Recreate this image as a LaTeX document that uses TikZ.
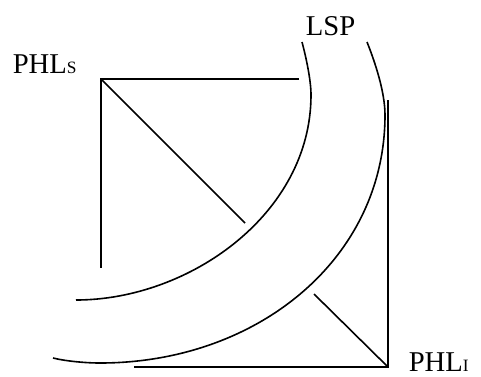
\documentclass[tikz,border=0pt]{standalone}
\usepackage{fontspec}
\setmainfont{Liberation Serif}
\begin{document}
\begin{tikzpicture}[x=0.75pt,y=-0.75pt,line width=1.2pt,
  lbl/.style={font=\fontsize{21.5}{24}\selectfont,inner sep=0pt,anchor=base west}]
\useasboundingbox (0,0) rectangle (481,376);
% labels
\node[lbl] (phls) at (12,73) {PHL{\fontsize{13}{14}\selectfont S}};
\node[lbl] (lsp) at (305,35) {LSP};
\node[lbl] (phli) at (408,371) {PHL{\fontsize{13}{14}\selectfont I}};
% upper-left figure
\coordinate (A) at (101,79);
\coordinate (Atop) at (299,79);
\coordinate (Aleft) at (101,268);
\coordinate (Adiag) at (245,223);
\draw (Atop) -- (A) -- (Aleft);
\draw (A) -- (Adiag);
% lower-right figure
\coordinate (B) at (388,367);
\coordinate (Bup) at (388,100);
\coordinate (Bleft) at (134,367);
\coordinate (Bdiag) at (314,294);
\draw (Bup) -- (B) -- (Bleft);
\draw (B) -- (Bdiag);
% arcs
\coordinate (i0) at (302,42);
\coordinate (i1) at (311,95);
\coordinate (i2) at (76,300);
\draw (i0) .. controls (306,57) and (311,80) .. (i1)
           .. controls (311,214) and (189,300) .. (i2);
\coordinate (o0) at (367,42);
\coordinate (o1) at (385,115);
\coordinate (o2) at (100,363);
\coordinate (o3) at (53,358);
\draw (o0) .. controls (375,62) and (385,92) .. (o1)
           .. controls (385,259) and (257,363) .. (o2)
           .. controls (85,363) and (65,361) .. (o3);
\end{tikzpicture}
\end{document}
